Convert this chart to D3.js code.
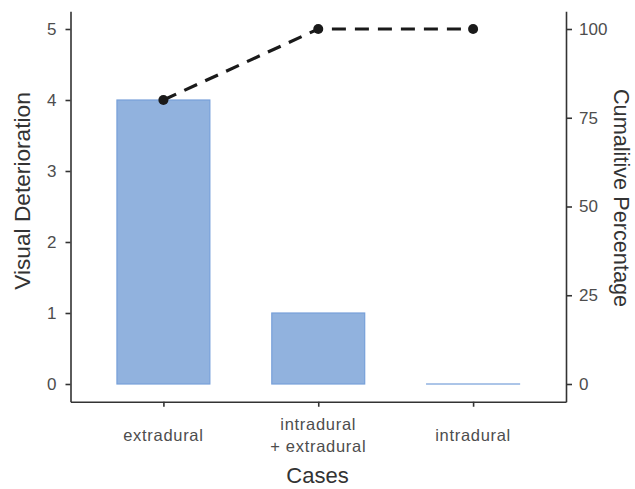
<!DOCTYPE html>
<html><head><meta charset="utf-8">
<script src="https://cdn.jsdelivr.net/npm/d3@7"></script>
<style>body{margin:0;background:#fff;} text{font-family:Arial,"Liberation Sans",sans-serif;}</style>
</head><body><svg id="c" width="635" height="489"></svg>
<script>
const categories = ["extradural", "intradural\n+ extradural", "intradural"];
const values = [4, 1, 0];
const cumulative = [80, 100, 100];
const leftTicks = [0, 1, 2, 3, 4, 5];
const rightTicks = [0, 25, 50, 75, 100];

const svg = d3.select("#c");
const L = 70.5, R = 566, T = 11.25, B = 401.75;
const x = d3.scaleLinear().domain([0.4, 3.6]).range([L, R]);
const y = d3.scaleLinear().domain([-0.25, 5.25]).range([B, T]);
const y2 = d3.scaleLinear().domain([-5, 105]).range([B, T]);

// bars
svg.selectAll("rect.bar").data(values).join("rect")
  .attr("x", (d,i)=>x(i+1-0.3)).attr("width", x(1.3)-x(0.7))
  .attr("y", d=>y(d)).attr("height", d=>Math.max(0.01, y(0)-y(d)))
  .attr("fill", "#91b2de").attr("stroke", "#77a0d9").attr("stroke-width", 1.2);

// line
const line = d3.line().x((d,i)=>x(i+1)).y(d=>y2(d));
svg.append("path").datum(cumulative).attr("d", line)
  .attr("fill","none").attr("stroke","#1a1a1a").attr("stroke-width",3.2)
  .attr("stroke-dasharray","14,9");
svg.selectAll("circle").data(cumulative).join("circle")
  .attr("cx",(d,i)=>x(i+1)).attr("cy",d=>y2(d)).attr("r",5).attr("fill","#1a1a1a");

// axes
const axCol = "#333";
const gl = svg.append("g").attr("transform",`translate(${L},0)`)
  .call(d3.axisLeft(y).tickValues(leftTicks).tickFormat(d3.format("d")).tickSize(5).tickSizeOuter(0).tickPadding(9));
const gr = svg.append("g").attr("transform",`translate(${R},0)`)
  .call(d3.axisRight(y2).tickValues(rightTicks).tickFormat(d3.format("d")).tickSize(6).tickSizeOuter(0).tickPadding(7));
const gb = svg.append("g").attr("transform",`translate(0,${B})`)
  .call(d3.axisBottom(x).tickValues([1,2,3]).tickSize(5).tickSizeOuter(0).tickFormat(""));
[gl,gr,gb].forEach(g=>{
  g.select(".domain").attr("stroke",axCol).attr("stroke-width",1.6);
  g.selectAll(".tick line").attr("stroke",axCol).attr("stroke-width",1.6);
  g.selectAll(".tick text").attr("fill","#4d4d4d").attr("font-size",17);
});
// category labels
categories.forEach((c,i)=>{
  const lines = c.split("\n");
  const t = svg.append("text").attr("x", x(i+1)).attr("text-anchor","middle")
    .attr("fill","#4d4d4d").attr("font-size",16.5).attr("letter-spacing",0.7);
  const y0 = lines.length === 1 ? 441 : 430;
  lines.forEach((l,k)=>t.append("tspan").attr("x",x(i+1)).attr("y", y0 + k*22).text(l));
});

// titles
svg.append("text").attr("x",317.5).attr("y",483).attr("text-anchor","middle")
  .attr("font-size",22).attr("fill","#333").text("Cases");
svg.append("text").attr("transform",`translate(30,191) rotate(-90)`).attr("text-anchor","middle")
  .attr("font-size",22.7).attr("fill","#333").text("Visual Deterioration");
svg.append("text").attr("transform",`translate(614,198) rotate(90)`).attr("text-anchor","middle")
  .attr("font-size",21.7).attr("fill","#333").text("Cumalitive Percentage");
</script></body></html>
